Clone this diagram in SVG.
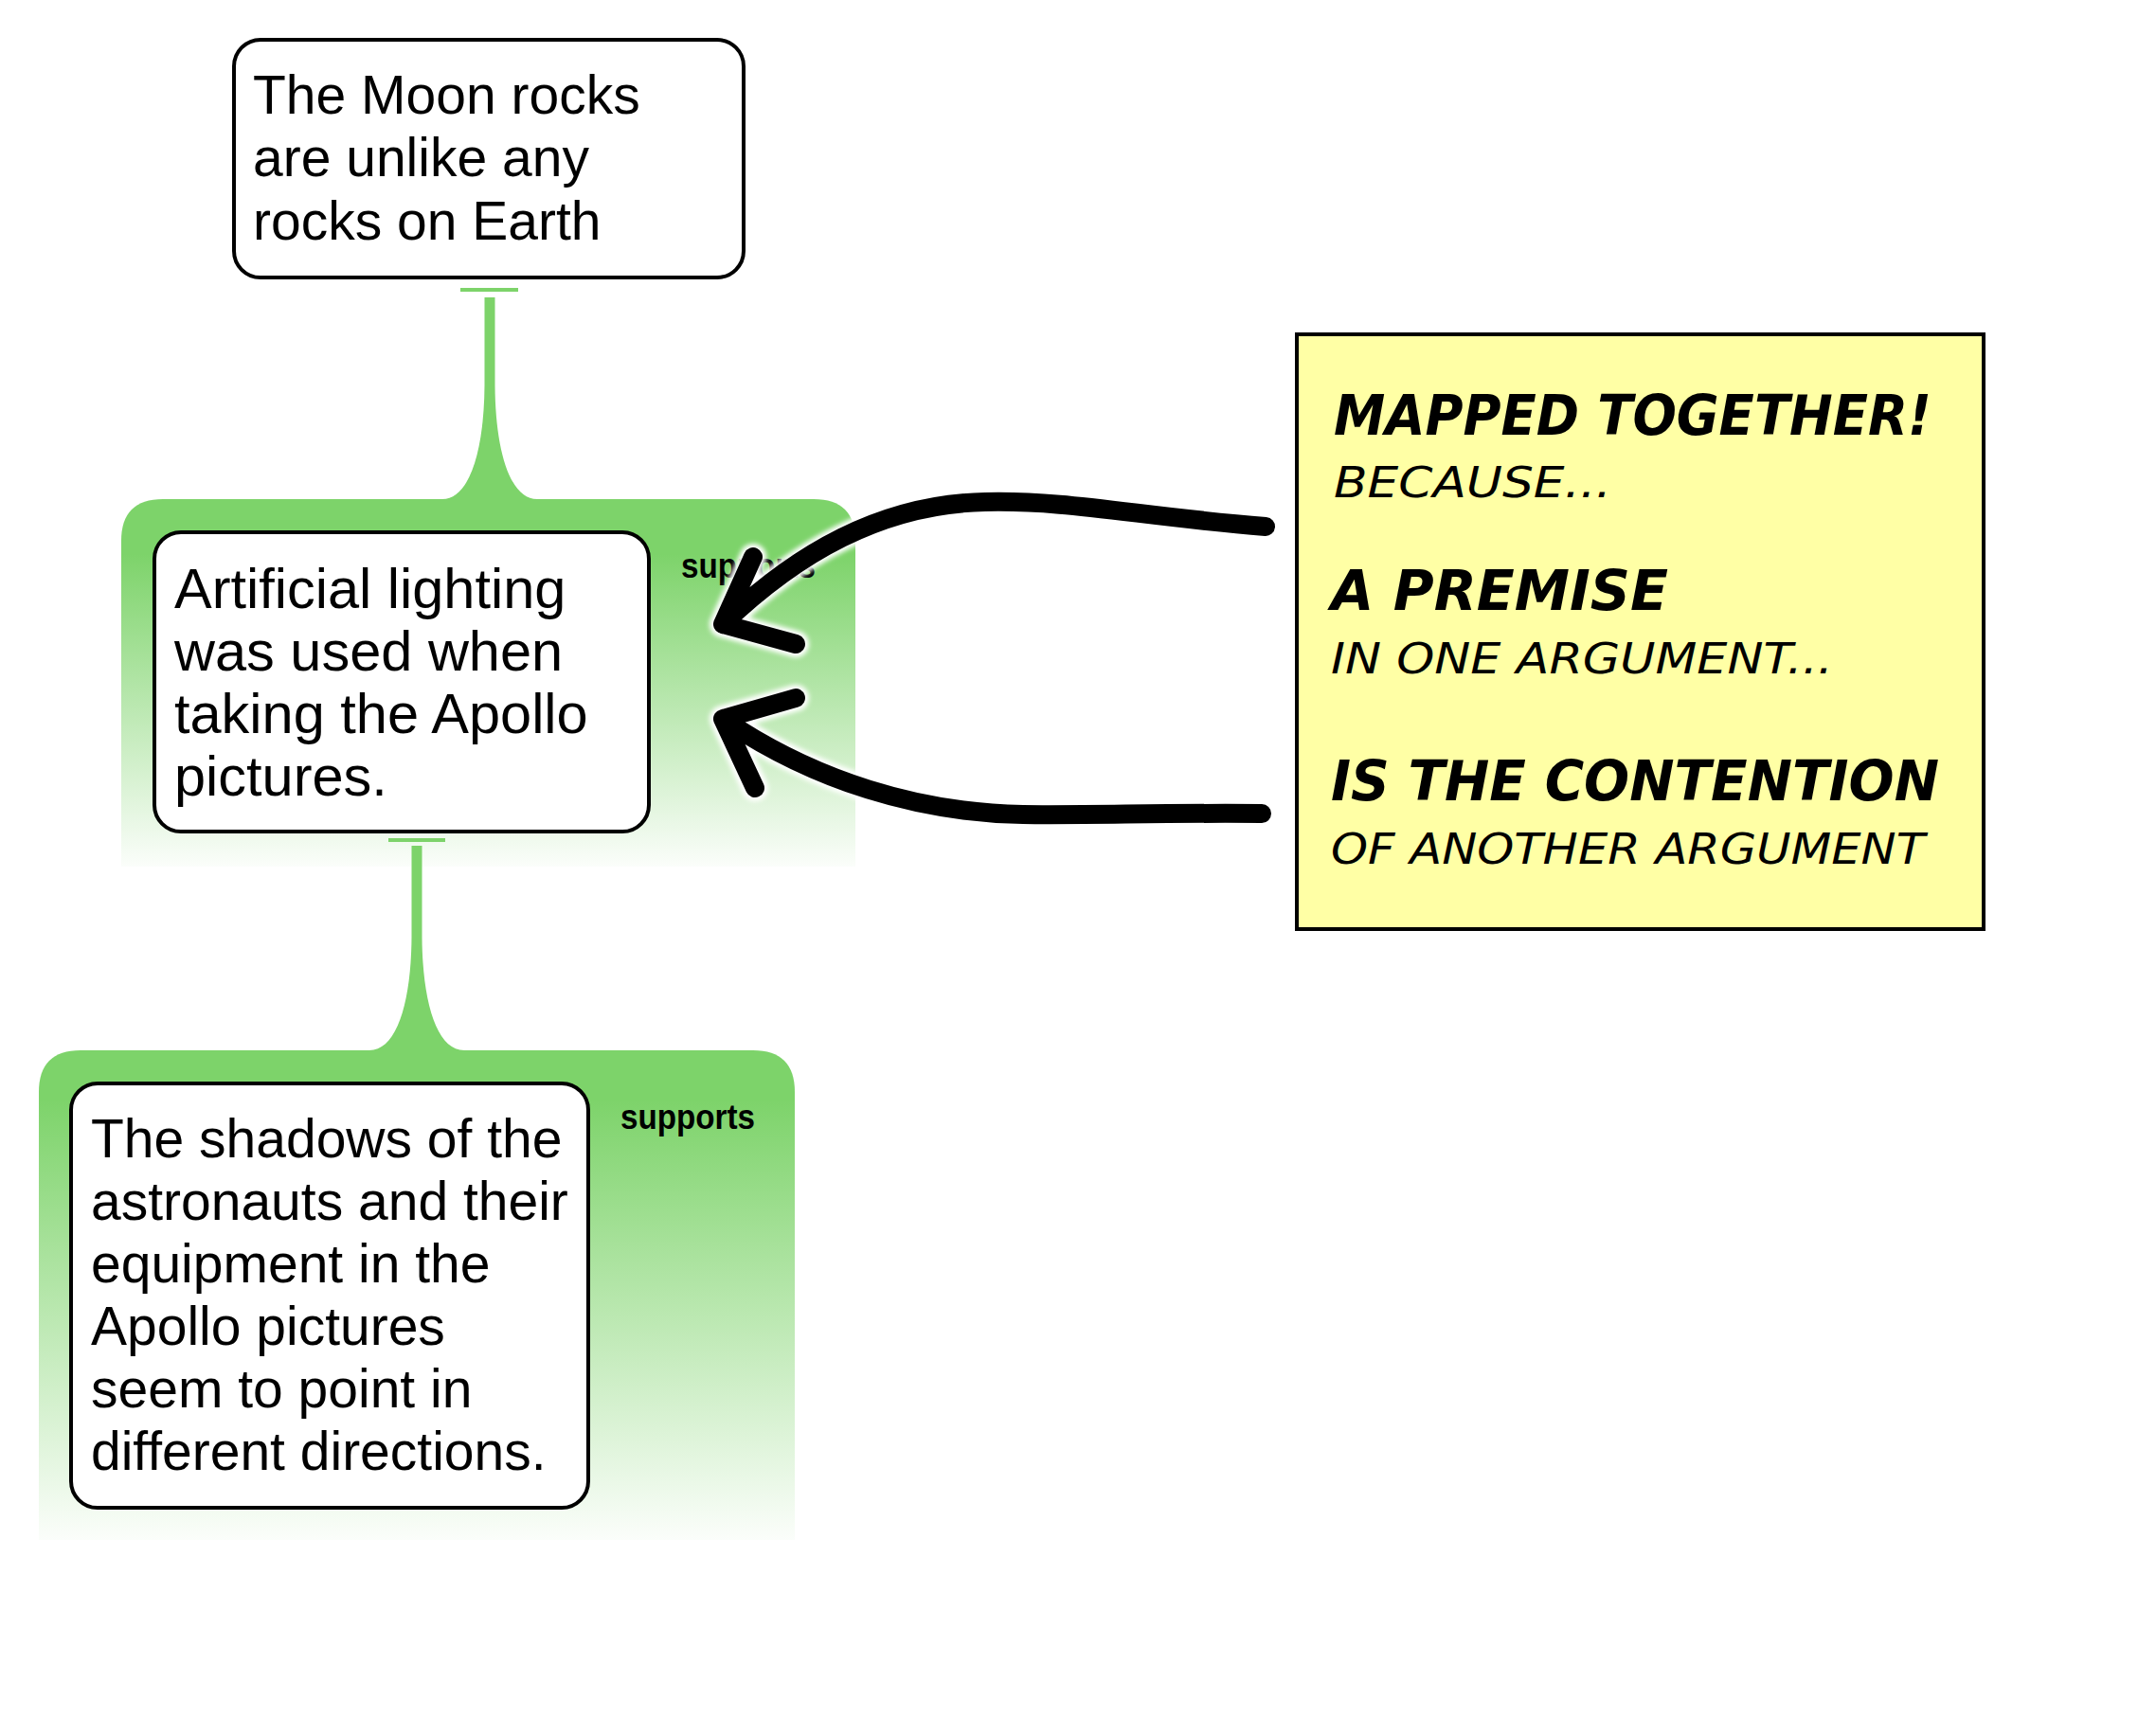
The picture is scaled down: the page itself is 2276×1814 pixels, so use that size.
<svg xmlns="http://www.w3.org/2000/svg" width="2276" height="1814" viewBox="0 0 2276 1814">
<defs>
<style>
.node{fill:#fff;stroke:#000;stroke-width:4}
.ntext{font-family:"Liberation Sans",Arial,sans-serif;font-size:57px;fill:#000}
.mtext{font-size:59.5px}
.lbl{font-family:"Liberation Sans",Arial,sans-serif;font-size:37px;font-weight:bold;fill:#000}
.green{fill:#7dd36a}
.tbar{fill:#7dd36a}
.halo{fill:none;stroke:#fff;stroke-width:28;stroke-linecap:round;stroke-linejoin:round;filter:url(#blur)}
.arrow{fill:none;stroke:#000;stroke-width:20;stroke-linecap:round;stroke-linejoin:round}
.big{font-family:"DejaVu Sans",sans-serif;font-weight:bold;font-style:italic;font-size:58px;fill:#000}
.small{font-family:"DejaVu Sans",sans-serif;font-style:italic;font-size:44px;fill:#000}
</style>
<filter id="blur" x="-20%" y="-20%" width="140%" height="140%"><feGaussianBlur stdDeviation="2.5"/></filter>
<linearGradient id="gMid" gradientUnits="userSpaceOnUse" x1="0" y1="527" x2="0" y2="915">
<stop offset="0" stop-color="#7dd36a"/>
<stop offset="0.15" stop-color="#7dd36a"/>
<stop offset="1" stop-color="#7dd36a" stop-opacity="0.03"/>
</linearGradient>
<linearGradient id="gBot" gradientUnits="userSpaceOnUse" x1="0" y1="1109" x2="0" y2="1626">
<stop offset="0" stop-color="#7dd36a"/>
<stop offset="0.1" stop-color="#7dd36a"/>
<stop offset="1" stop-color="#7dd36a" stop-opacity="0.03"/>
</linearGradient>
</defs>
<rect width="2276" height="1814" fill="#fff"/>

<g id="region-middle">
<path d="M128,915 L128,571 Q128,527 172,527 L859,527 Q903,527 903,571 L903,915 Z" fill="url(#gMid)"/>
<text class="lbl" x="719" y="610" textLength="142" lengthAdjust="spacingAndGlyphs">supports</text>
</g>
<g id="region-bottom">
<path d="M41,1626 L41,1153 Q41,1109 85,1109 L795,1109 Q839,1109 839,1153 L839,1626 Z" fill="url(#gBot)"/>
<text class="lbl" x="655" y="1192" textLength="142" lengthAdjust="spacingAndGlyphs">supports</text>
</g>

<g id="connectors">
<rect class="tbar" x="486" y="304" width="61" height="4"/>
<path class="green" d="M511.5,314 L522.5,314 L522.5,407 C523,475 538,527 567,527 L567,530 L467,530 L467,527 C496,527 511,475 511.5,407 Z"/>
<rect class="tbar" x="410" y="885" width="60" height="4"/>
<path class="green" d="M434.5,893 L445.5,893 L445.5,990 C446,1058 461,1109 490,1109 L490,1112 L390,1112 L390,1109 C419,1109 434,1058 434.5,990 Z"/>
</g>

<g id="node-top">
<rect class="node" x="247" y="42" width="538" height="251" rx="28"/>
<text class="ntext" x="267" y="120">The Moon rocks</text>
<text class="ntext" x="267" y="186">are unlike any</text>
<text class="ntext" x="267" y="253">rocks on Earth</text>
</g>
<g id="node-middle">
<rect class="node" x="163" y="562" width="522" height="316" rx="28"/>
<text class="ntext mtext" x="184" y="642">Artificial lighting</text>
<text class="ntext mtext" x="184" y="708">was used when</text>
<text class="ntext mtext" x="184" y="774">taking the Apollo</text>
<text class="ntext mtext" x="184" y="840">pictures.</text>
</g>
<g id="node-bottom">
<rect class="node" x="75" y="1144" width="546" height="448" rx="28"/>
<text class="ntext" x="96" y="1222">The shadows of the</text>
<text class="ntext" x="96" y="1288">astronauts and their</text>
<text class="ntext" x="96" y="1354">equipment in the</text>
<text class="ntext" x="96" y="1420">Apollo pictures</text>
<text class="ntext" x="96" y="1486">seem to point in</text>
<text class="ntext" x="96" y="1552">different directions.</text>
</g>

<g id="arrows">
<path class="halo" d="M1336,556 C1200,545 1130,528 1040,530 C930,532 840,585 763,659 M795,588 L763,659 L840,680"/>
<path class="halo" d="M1332,859 C1230,858 1150,861 1080,860 C970,858 860,825 763,759 M840,737 L763,759 L797,832"/>
<path class="arrow" d="M1336,556 C1200,545 1130,528 1040,530 C930,532 840,585 763,659 M795,588 L763,659 L840,680"/>
<path class="arrow" d="M1332,859 C1230,858 1150,861 1080,860 C970,858 860,825 763,759 M840,737 L763,759 L797,832"/>
</g>

<g id="note">
<rect x="1369" y="353" width="725" height="628" fill="#ffffa5" stroke="#000" stroke-width="4"/>
<text class="big" x="1408" y="459" textLength="631" lengthAdjust="spacingAndGlyphs">MAPPED TOGETHER!</text>
<text class="small" x="1408" y="525" textLength="293" lengthAdjust="spacingAndGlyphs">BECAUSE...</text>
<text class="big" x="1405" y="644" textLength="356" lengthAdjust="spacingAndGlyphs">A PREMISE</text>
<text class="small" x="1405" y="711" textLength="530" lengthAdjust="spacingAndGlyphs">IN ONE ARGUMENT...</text>
<text class="big" x="1405" y="845" textLength="642" lengthAdjust="spacingAndGlyphs">IS THE CONTENTION</text>
<text class="small" x="1405" y="912" textLength="627" lengthAdjust="spacingAndGlyphs">OF ANOTHER ARGUMENT</text>
</g>
</svg>
